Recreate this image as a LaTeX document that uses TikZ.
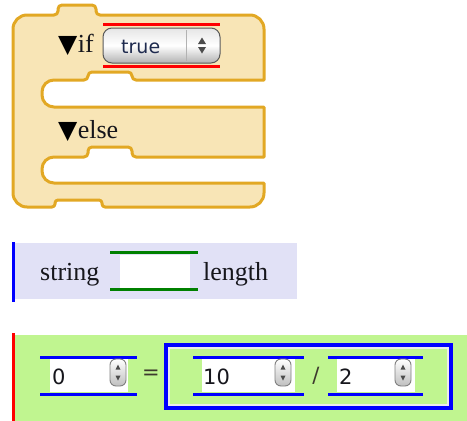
\documentclass[tikz,border=0pt]{standalone}
\usepackage{fontspec}
\setmainfont{Liberation Serif}
\newfontfamily\uisans{DejaVu Sans}
\definecolor{blockfill}{HTML}{F8E5B6}
\definecolor{blockline}{HTML}{E2A824}
\definecolor{strfill}{HTML}{E1E1F6}
\definecolor{mathfill}{HTML}{C0F590}
\definecolor{labelink}{HTML}{16161C}
\definecolor{comboink}{HTML}{1E2A4E}
\definecolor{slotgreen}{HTML}{008000}
\begin{document}
\begin{tikzpicture}[x=1pt,y=-1pt,
  blk/.style={fill=blockfill, draw=blockline, line width=3pt, line join=round},
  lbl/.style={inner sep=0pt, anchor=base west, text=labelink, font=\fontsize{26}{30}\selectfont},
  tri/.style={inner sep=0pt, anchor=base west, text=black, font=\uisans\fontsize{25}{28}\selectfont},
  num/.style={inner sep=0pt, anchor=base west, text=labelink, font=\uisans\fontsize{21}{24}\selectfont},
  op/.style={inner sep=0pt, text=black!75!olive, font=\uisans\fontsize{21}{24}\selectfont},
  rail/.style={line width=3pt},
  sidebar/.style={line width=2.5pt},
  field/.style={fill=white, draw=none},
  spinner/.style={draw=black!50, line width=0.9pt, rounded corners=6pt, top color=white, bottom color=black!25},
  arrowglyph/.style={fill=black!70},
]
\useasboundingbox (0,0) rectangle (467,421);

% ---------- if / else block ----------
\draw[blk] (13,193) -- (13,29) arc(180:270:14)
  -- (54,15) arc(90:0:4) -- (58,9) arc(180:270:4)
  -- (92,5) arc(270:360:4) -- (96,11) arc(180:90:4)
  -- (250,15) arc(270:360:14)
  -- (264,80)
  -- (136,80) arc(90:180:4) -- (132,76) arc(0:-90:4)
  -- (92,72) arc(270:180:4) -- (88,76) arc(0:90:4)
  -- (54,80) arc(270:180:12) -- (42,95) arc(180:90:12)
  -- (264,107) -- (264,157)
  -- (136,157) arc(90:180:4) -- (132,151) arc(0:-90:4)
  -- (92,147) arc(270:180:4) -- (88,153) arc(0:90:4)
  -- (54,157) arc(270:180:12) -- (42,171) arc(180:90:12)
  -- (264,183) -- (264,193) arc(0:90:14)
  -- (105,207) arc(90:180:3) -- (102,203) arc(0:-90:3)
  -- (58,200) arc(270:180:3) -- (55,204) arc(0:90:3)
  -- (27,207) arc(90:180:14) -- cycle;

\node[tri] (iftri) at (58,52) {▼};
\node[lbl, anchor=base west] (iflbl) at (iftri.base east) {if};
\node[tri] (elsetri) at (58,138) {▼};
\node[lbl, anchor=base west] (elselbl) at (elsetri.base east) {else};

% dropdown holding "true"
\draw[red, rail] (103,24.5) -- (220,24.5);
\draw[red, rail] (103,66.5) -- (220,66.5);
\shade[top color=black!10, bottom color=black!30, middle color=white, draw=black!65, line width=1pt, rounded corners=9pt]
  (103,28) rectangle (220,63);
\draw[black!30, line width=0.8pt] (186,30) -- (186,61);
\fill[arrowglyph] (202,37.5) -- (206,44) -- (198,44) -- cycle;
\fill[arrowglyph] (202,53.5) -- (206,47) -- (198,47) -- cycle;
\node[inner sep=0pt, anchor=base west, text=comboink, font=\uisans\fontsize{19}{22}\selectfont] (truelbl) at (121,53) {true};

% ---------- string length block ----------
\fill[strfill] (15,243) rectangle (297,299);
\draw[blue, sidebar] (13.5,242) -- (13.5,302);
\fill[field] (120,255) rectangle (190,288);
\draw[slotgreen, rail] (110,252.5) -- (198,252.5);
\draw[slotgreen, rail] (110,289.5) -- (198,289.5);
\node[lbl] (strlbl) at (40,280) {string};
\node[lbl] (lenlbl) at (203,280) {length};

% ---------- comparison block ----------
\fill[mathfill] (15,335) rectangle (467,421);
\draw[red, sidebar] (13.5,333) -- (13.5,421);

% left operand
\fill[field] (50,359) rectangle (128,392);
\draw[blue, rail] (40,357) -- (137,357);
\draw[blue, rail] (40,394) -- (137,394);
\shade[spinner] (110,359) rectangle (126,386);
\fill[arrowglyph] (118,364.5) -- (120.5,369.5) -- (115.5,369.5) -- cycle;
\fill[arrowglyph] (118,380.5) -- (120.5,375.5) -- (115.5,375.5) -- cycle;
\node[num] (zero) at (52,384) {0};

\node[op] (eq) at (151,375) {=};

% nested quotient
\draw[blue, line width=4pt] (166,345) rectangle (451,408);
\draw[white!92!black, line width=1.5pt] (169,348) rectangle (448,405);

\fill[field] (202,359) rectangle (295,392);
\draw[blue, rail] (193,357) -- (304,357);
\draw[blue, rail] (193,394) -- (304,394);
\shade[spinner] (275,359) rectangle (291,386);
\fill[arrowglyph] (283,364.5) -- (285.5,369.5) -- (280.5,369.5) -- cycle;
\fill[arrowglyph] (283,380.5) -- (285.5,375.5) -- (280.5,375.5) -- cycle;
\node[num] (ten) at (203,384) {10};

\node[op] (slash) at (316,376) {/};

\fill[field] (337,359) rectangle (415,392);
\draw[blue, rail] (328,357) -- (423,357);
\draw[blue, rail] (328,394) -- (423,394);
\shade[spinner] (395,359) rectangle (411,386);
\fill[arrowglyph] (403,364.5) -- (405.5,369.5) -- (400.5,369.5) -- cycle;
\fill[arrowglyph] (403,380.5) -- (405.5,375.5) -- (400.5,375.5) -- cycle;
\node[num] (two) at (339,384) {2};
\end{tikzpicture}
\end{document}
